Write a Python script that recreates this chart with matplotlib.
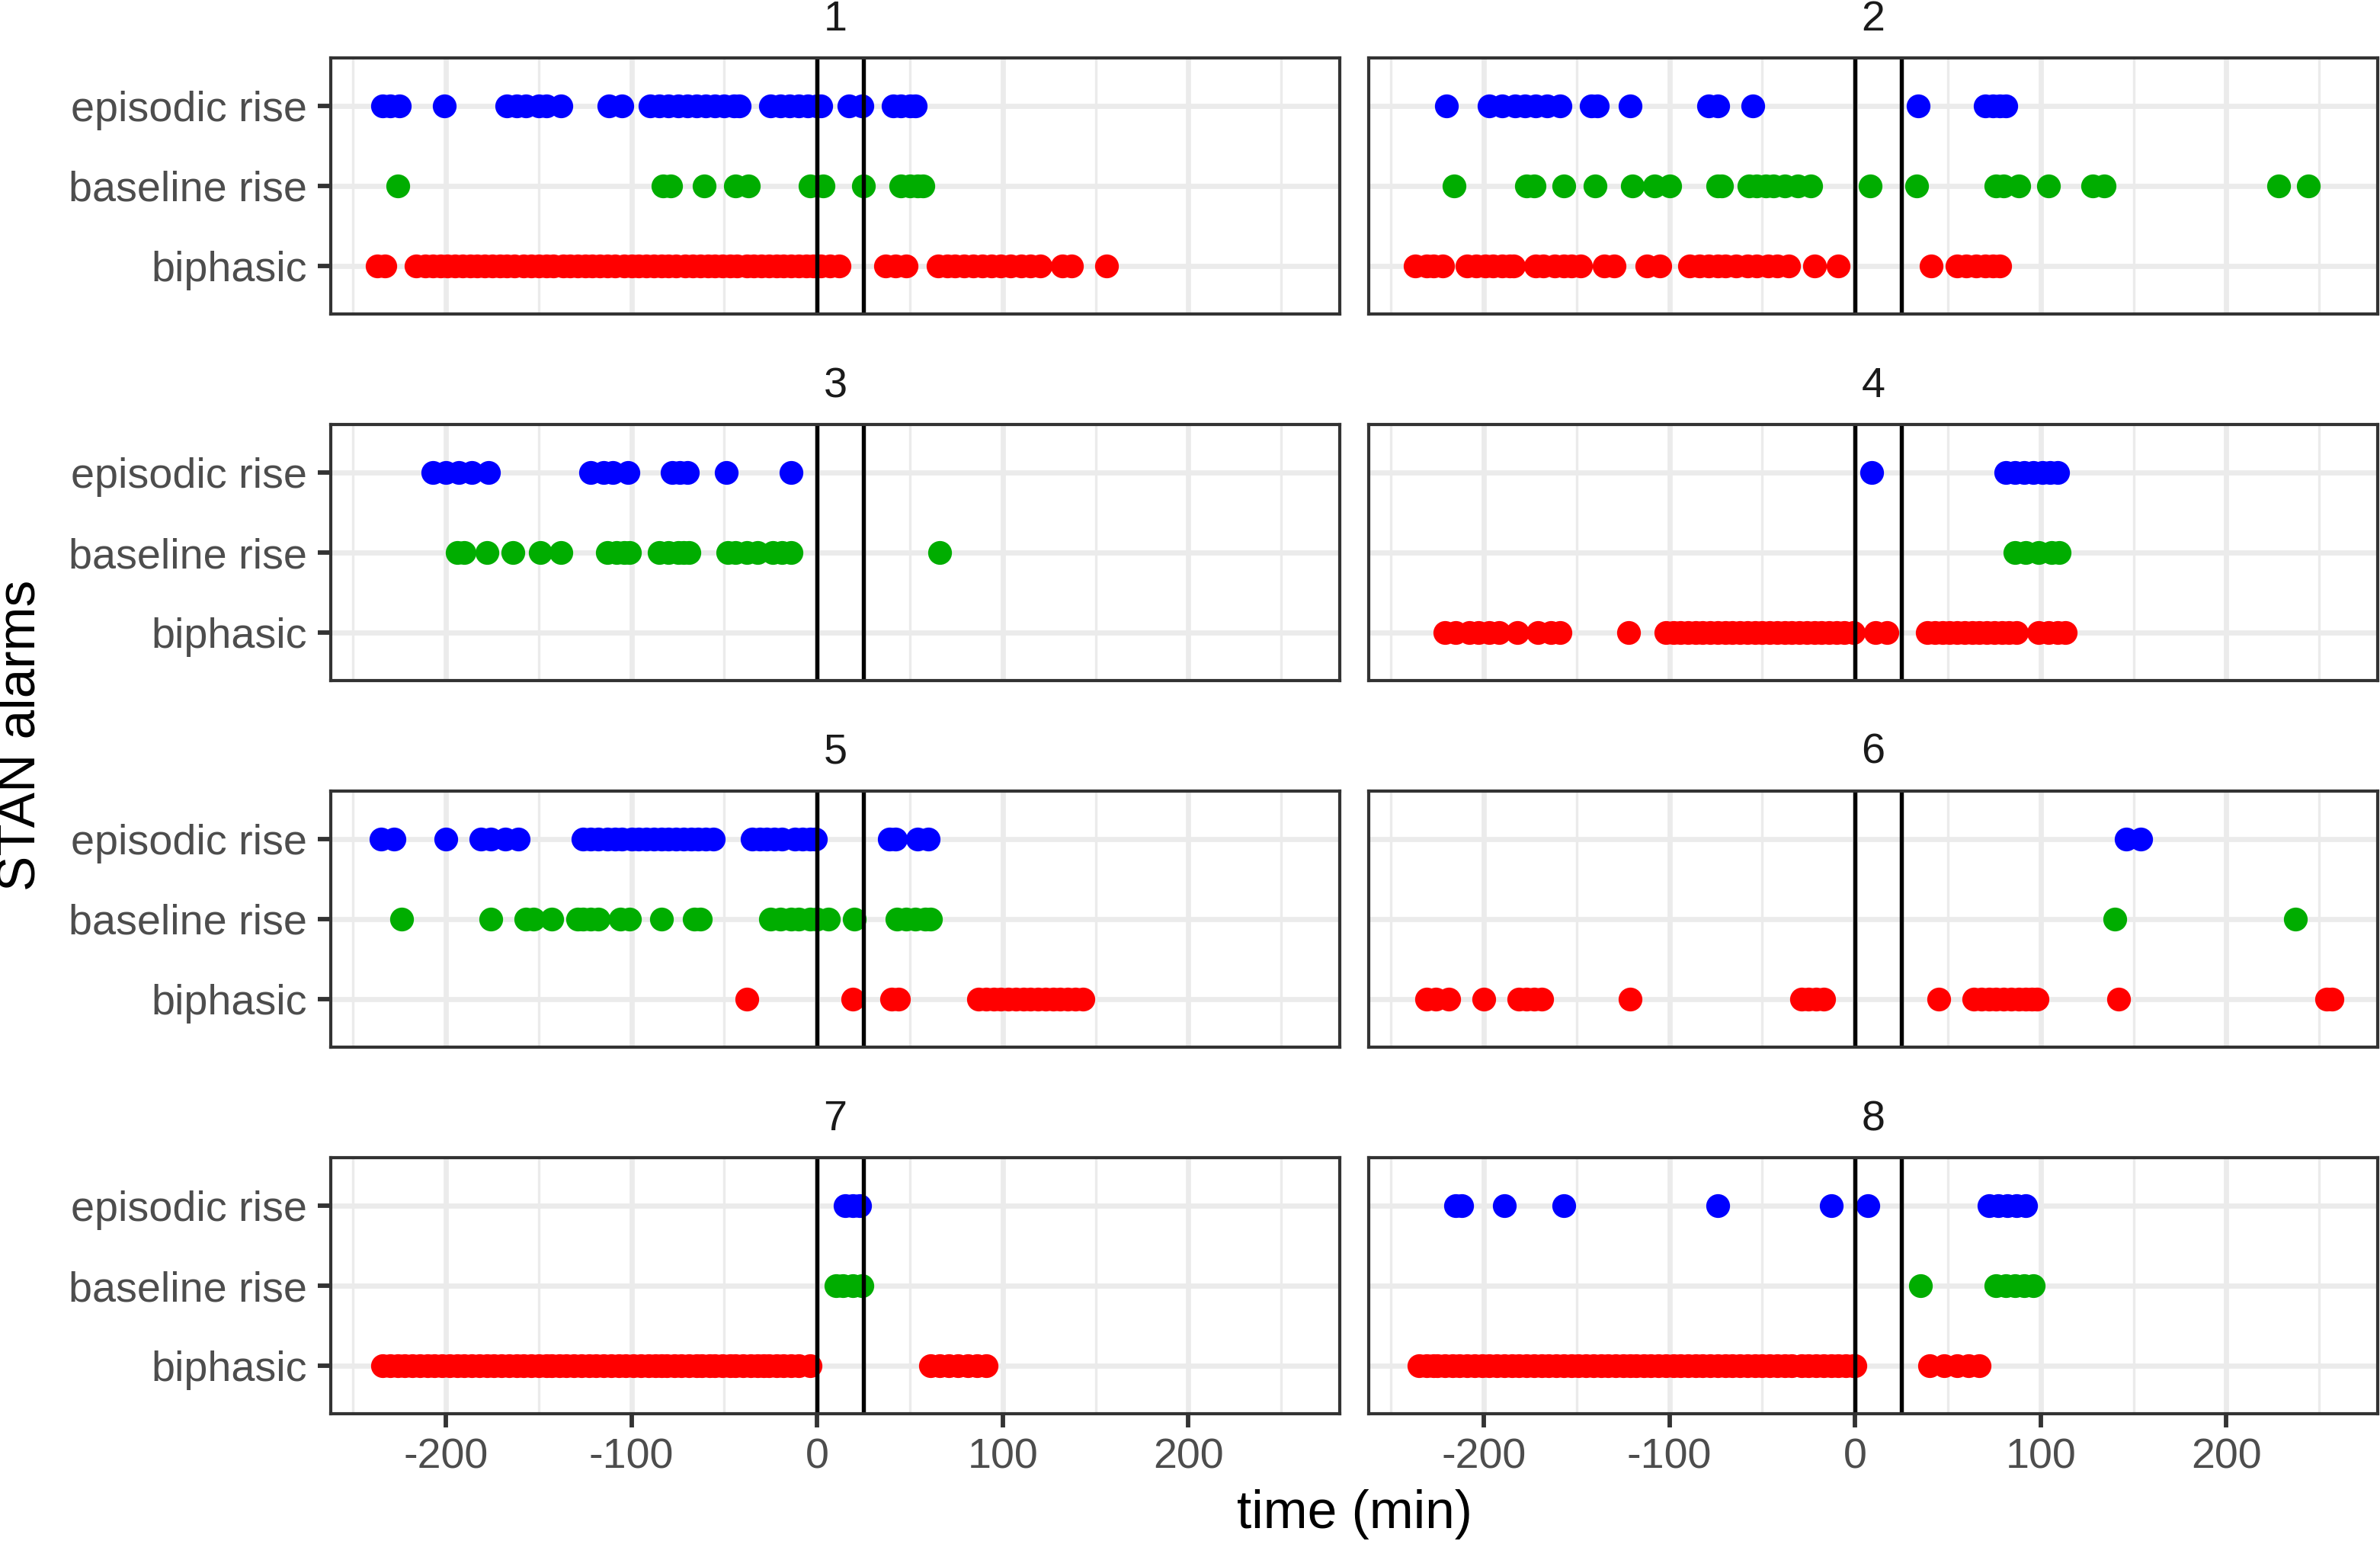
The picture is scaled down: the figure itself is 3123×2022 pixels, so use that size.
import matplotlib
matplotlib.use("Agg")
import matplotlib.pyplot as plt

# ---------------- data (minutes relative to event) ----------------
categories = ["biphasic", "baseline rise", "episodic rise"]
panel_labels = ["1", "2", "3", "4", "5", "6", "7", "8"]
vline_times = [0, 25]
x_major = [-200, -100, 0, 100, 200]
x_minor = [-250, -150, -50, 50, 150, 250]

p1_episodic = [-234, -230, -225, -201, -167, -162, -157, -150, -146, -138, -112, -105,
               -90, -85, -80, -75, -70, -65, -60, -55, -50, -45, -42,
               -25, -20, -15, -10, -5, 0, 2, 17, 24, 41, 45, 50, 53]
p1_baseline = [-226, -83, -79, -61, -44, -37, -4, 3, 25, 45, 50, 54, 57]
p1_biphasic = [-237, -233, -216, -211, -207, -203, -199, -195, -191, -187, -183, -179,
               -175, -171, -167, -163, -158, -154, -150, -146, -142, -137, -133, -129,
               -125, -121, -117, -113, -109, -104, -100, -96, -92, -88, -84, -80, -76,
               -71, -67, -63, -59, -55, -51, -47, -43, -38, -34, -30, -26, -22, -18,
               -14, -10, -6, -2, 2, 7, 12, 37, 42, 48, 65, 70, 74, 79, 84, 89, 94, 99,
               104, 110, 115, 120, 132, 137, 156]

p2_episodic = [-220, -197, -190, -183, -178, -172, -166, -159, -142, -139, -121,
               -79, -74, -55, 34, 70, 74, 78, 81]
p2_baseline = [-216, -177, -173, -157, -140, -120, -108, -100, -74, -72,
               -57, -53, -48, -44, -38, -31, -24, 8, 33, 76, 80, 88, 104, 128, 134,
               228, 244]
p2_biphasic = [-237, -231, -227, -222, -209, -204, -199, -195, -190, -186, -184,
               -172, -168, -162, -157, -153, -148, -135, -130, -112, -105,
               -89, -84, -79, -74, -70, -64, -58, -53, -47, -42, -36, -22, -9,
               41, 55, 60, 65, 70, 74, 78]

p3_episodic = [-207, -200, -193, -186, -177, -122, -115, -110, -102, -78, -74, -70,
               -49, -14]
p3_baseline = [-194, -190, -178, -164, -149, -138, -113, -108, -104, -101,
               -85, -80, -75, -72, -69, -48, -44, -38, -32, -24, -19, -14, 66]
p3_biphasic = []

p4_episodic = [9, 81, 86, 91, 96, 101, 105, 109]
p4_baseline = [86, 92, 99, 106, 110]
p4_biphasic = [-221, -215, -208, -203, -197, -192, -182, -171, -164, -159, -122,
               -102, -98, -94, -90, -86, -82, -78, -74, -70, -66, -62, -58, -54, -50,
               -46, -42, -38, -34, -30, -26, -22, -18, -14, -10, -6, -1, 11, 17,
               39, 43, 47, 51, 55, 59, 63, 67, 71, 75, 79, 83, 87, 99, 104, 109, 113]

p5_episodic = [-235, -228, -200, -181, -176, -168, -161,
               -126, -122, -118, -113, -109, -105, -100, -96, -92, -88, -84, -80,
               -76, -72, -68, -64, -60, -56, -35, -31, -27, -23, -19, -12, -8, -4, -1,
               39, 42, 54, 60]
p5_baseline = [-224, -176, -157, -153, -143, -129, -126, -122, -118, -106, -101, -84,
               -66, -63, -25, -20, -14, -10, -4, 0, 6, 20, 43, 48, 53, 58, 61]
p5_biphasic = [-38, 19, 40, 44, 87, 91, 95, 99, 103, 107, 111, 115, 119, 123, 127,
               131, 135, 139, 143]

p6_episodic = [146, 154]
p6_baseline = [140, 237]
p6_biphasic = [-231, -226, -219, -200, -181, -177, -173, -169, -121, -29, -25, -21, -17,
               45, 64, 68, 72, 76, 80, 84, 88, 92, 95, 98, 142, 254, 257]

p7_episodic = [15, 19, 23]
p7_baseline = [10, 14, 19, 24]
p7_biphasic = [-234, -230, -226, -222, -218, -214, -210, -206, -202, -198, -194, -190,
               -186, -182, -178, -174, -170, -166, -162, -158, -154, -150, -146, -143,
               -139, -135, -131, -127, -123, -119, -115, -111, -107, -103, -99, -95,
               -91, -87, -84, -81, -77, -73, -69, -65, -62, -58, -55, -51, -47, -44,
               -40, -36, -32, -29, -26, -22, -18, -14, -10, -4, 61, 66, 71, 76, 81, 86, 91]

p8_episodic = [-215, -212, -189, -157, -74, -13, 7, 72, 77, 82, 87, 92]
p8_baseline = [35, 76, 81, 86, 91, 96]
p8_biphasic = [-235, -231, -227, -225, -221, -217, -213, -209, -205, -201, -197, -193,
               -189, -185, -181, -177, -173, -169, -165, -161, -157, -153, -149, -145,
               -141, -137, -133, -129, -125, -121, -118, -114, -110, -106, -102, -98,
               -94, -90, -86, -82, -78, -74, -70, -66, -62, -58, -54, -50, -46, -42,
               -38, -34, -29, -25, -21, -17, -13, -9, -5, -1, 0, 40, 48, 55, 61, 67]

panels = [
    (p1_episodic, p1_baseline, p1_biphasic),
    (p2_episodic, p2_baseline, p2_biphasic),
    (p3_episodic, p3_baseline, p3_biphasic),
    (p4_episodic, p4_baseline, p4_biphasic),
    (p5_episodic, p5_baseline, p5_biphasic),
    (p6_episodic, p6_baseline, p6_biphasic),
    (p7_episodic, p7_baseline, p7_biphasic),
    (p8_episodic, p8_baseline, p8_biphasic),
]

colors = {"episodic rise": "#0000FF", "baseline rise": "#00AD00", "biphasic": "#FF0000"}

# ---------------- figure ----------------
plt.rcParams['font.family'] = ['Liberation Sans', 'DejaVu Sans']
W, H = 3123, 2022
DPI = 300
fig = plt.figure(figsize=(W / DPI, H / DPI), dpi=DPI)
fig.patch.set_facecolor("white")

col_left = [434, 1796]
panel_w = 1324
row_top = [76, 557, 1038, 1519]
panel_h = 336

tick_fs = 13.4
title_fs = 16.7
grey30 = "#4D4D4D"
grey20 = "#333333"
grid_col = "#EBEBEB"
xlim = (-262, 281.5)
cat_pos = {c: i + 1 for i, c in enumerate(categories)}

for idx, (ep, bl, bi) in enumerate(panels):
    r, c = divmod(idx, 2)
    left = col_left[c] / W
    bottom = 1 - (row_top[r] + panel_h) / H
    ax = fig.add_axes([left, bottom, panel_w / W, panel_h / H])
    ax.set_xlim(*xlim)
    ax.set_ylim(0.4, 3.6)
    # grid
    for xv in x_minor:
        ax.axvline(xv, color=grid_col, lw=0.81, zorder=0)
    for xv in x_major:
        ax.axvline(xv, color=grid_col, lw=1.62, zorder=0)
    for yv in cat_pos.values():
        ax.axhline(yv, color=grid_col, lw=1.62, zorder=0)
    # points
    for name, vals in (("episodic rise", ep), ("baseline rise", bl), ("biphasic", bi)):
        if len(vals):
            ax.plot(vals, [cat_pos[name]] * len(vals), linestyle="none", marker="o",
                    markersize=7.5, markeredgewidth=0, color=colors[name], zorder=2)
    for v in vline_times:
        ax.axvline(v, color="black", lw=1.3, zorder=3)
    # spines
    for s in ax.spines.values():
        s.set_color(grey20)
        s.set_linewidth(1.0)
        s.set_zorder(4)
    # ticks
    ax.set_xticks(x_major)
    ax.set_yticks([1, 2, 3])
    ax.tick_params(axis="both", length=4.2, width=1.4, color=grey20, pad=3.3,
                   labelsize=tick_fs, labelcolor=grey30)
    if c == 0:
        ax.set_yticklabels(categories)
    else:
        ax.tick_params(axis="y", left=False, labelleft=False)
    if r == 3:
        ax.set_xticklabels([str(v) for v in x_major])
    else:
        ax.tick_params(axis="x", bottom=False, labelbottom=False)
    # strip label
    fig.text((col_left[c] + panel_w / 2) / W, 1 - (row_top[r] - 50) / H,
             panel_labels[idx], ha="center", va="center", fontsize=tick_fs,
             color="#1A1A1A")

fig.text((434 + 3120) / 2 / W, 1 - 1987 / H, "time (min)", ha="center", va="center",
         fontsize=title_fs, color="black")
fig.text(28 / W, 1 - 965 / H, "STAN alarms", ha="center", va="center",
         fontsize=title_fs, rotation=90, color="black")

fig.savefig("out.png", dpi=DPI, facecolor="white")
